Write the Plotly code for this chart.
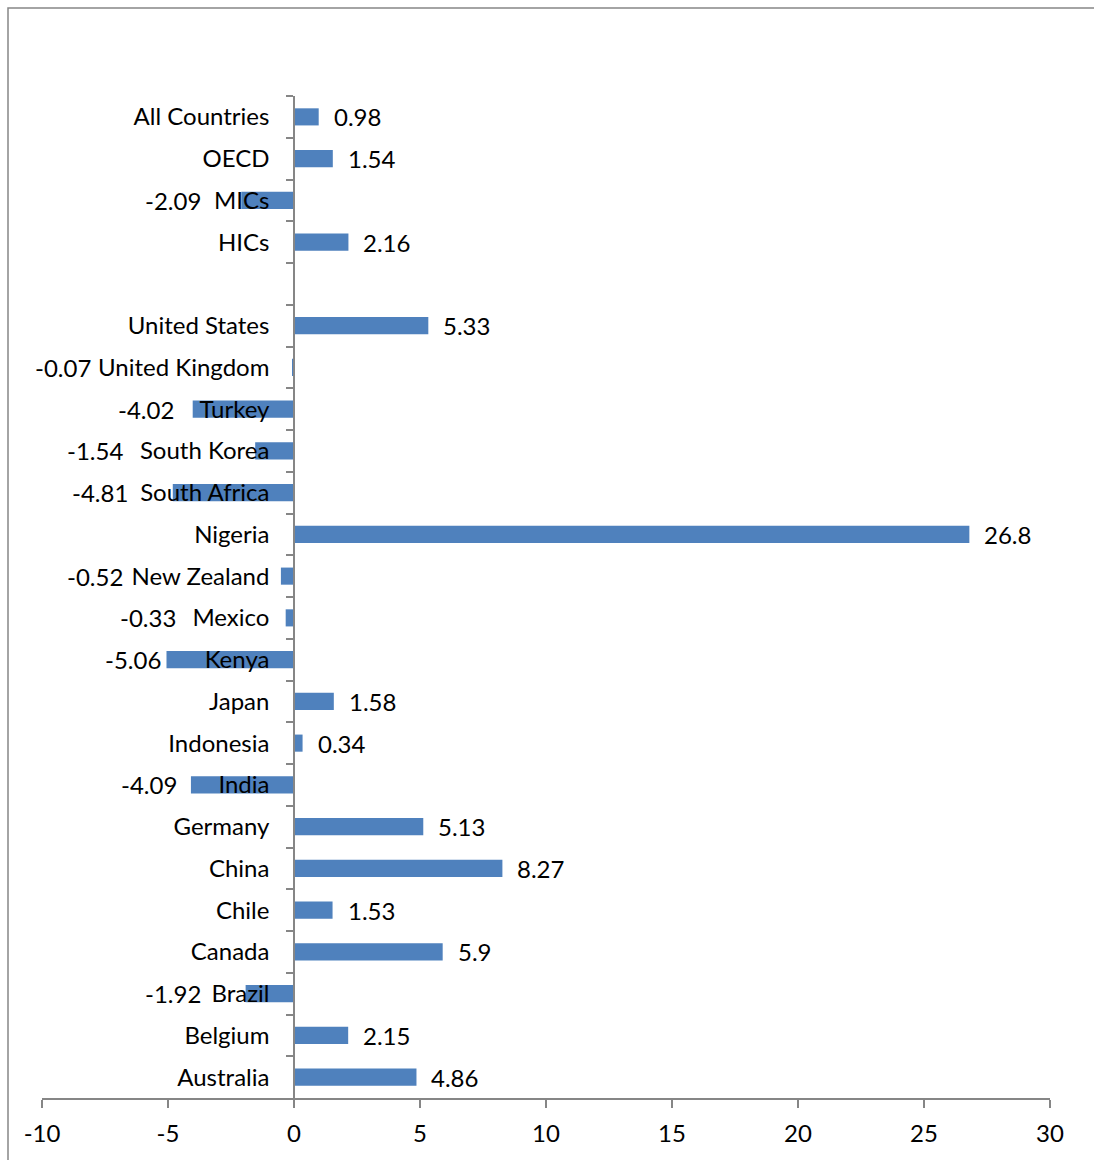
import plotly.graph_objects as go

# Categories listed top to bottom; " " is the empty spacer row
categories = [
    "All Countries", "OECD", "MICs", "HICs", " ",
    "United States", "United Kingdom", "Turkey", "South Korea", "South Africa",
    "Nigeria", "New Zealand", "Mexico", "Kenya", "Japan", "Indonesia",
    "India", "Germany", "China", "Chile", "Canada", "Brazil", "Belgium",
    "Australia",
]
values = [
    0.98, 1.54, -2.09, 2.16, None,
    5.33, -0.07, -4.02, -1.54, -4.81,
    26.8, -0.52, -0.33, -5.06, 1.58, 0.34,
    -4.09, 5.13, 8.27, 1.53, 5.9, -1.92, 2.15,
    4.86,
]
x_ticks = [-10, -5, 0, 5, 10, 15, 20, 25, 30]
x_tick_text = ["-10", "-5", "0", "5", "10", "15", "20", "25", "30"]

# Extra leftward nudge (px) for negative value labels so they clear the category names
neg_label_nudge = {
    "MICs": 25, "United Kingdom": 186, "Turkey": 4, "South Korea": 117,
    "South Africa": 30, "New Zealand": 143, "Mexico": 95, "Kenya": -10,
    "India": -1, "Brazil": 30,
}

FONT = "Lato, Carlito, 'Liberation Sans', sans-serif"
FSIZE = 24
AXIS_GREY = "#868686"
BAR_BLUE = "#4F81BD"

fig = go.Figure()
fig.add_trace(go.Bar(
    x=values, y=categories, orientation="h",
    marker=dict(color=BAR_BLUE, line=dict(width=0)),
    width=0.41, hoverinfo="x+y", showlegend=False,
))

annotations = []
for cat, v in zip(categories, values):
    if v is None:
        continue
    label = f"{v:g}"
    if v >= 0:
        annotations.append(dict(
            x=v, y=cat, xref="x", yref="y", text=label, showarrow=False,
            xanchor="left", xshift=13, yshift=0,
            font=dict(family=FONT, size=FSIZE, color="#000000"),
        ))
    else:
        annotations.append(dict(
            x=v, y=cat, xref="x", yref="y", text=label, showarrow=False,
            xanchor="right", xshift=-13 - neg_label_nudge.get(cat, 0), yshift=0,
            font=dict(family=FONT, size=FSIZE, color="#000000"),
        ))

fig.update_layout(
    width=1094, height=1160,
    margin=dict(l=42, r=44, t=96, b=62),
    paper_bgcolor="#FFFFFF", plot_bgcolor="#FFFFFF",
    font=dict(family=FONT, size=FSIZE, color="#000000"),
    bargap=0.59,
    annotations=annotations,
    xaxis=dict(
        range=[-10, 30], tickmode="array", tickvals=x_ticks, ticktext=x_tick_text,
        showgrid=False, zeroline=False, automargin=False,
        showline=True, linecolor=AXIS_GREY, linewidth=1.5,
        ticks="outside", ticklen=8, tickwidth=1.5, tickcolor=AXIS_GREY,
        ticklabelstandoff=5,
        tickfont=dict(family=FONT, size=FSIZE, color="#000000"),
    ),
    yaxis=dict(
        type="category", range=[len(categories) - 0.5, -0.5],
        anchor="free", position=0.25, automargin=False,
        showgrid=False, zeroline=False,
        showline=True, linecolor=AXIS_GREY, linewidth=1.5,
        ticks="outside", ticklen=7, tickwidth=1.5, tickcolor=AXIS_GREY,
        tickson="boundaries", ticklabelstandoff=19,
        tickfont=dict(family=FONT, size=FSIZE, color="#000000"),
    ),
    shapes=[dict(
        type="rect", xref="paper", yref="paper",
        x0=-34 / 1008, y0=-0.2, x1=1.2, y1=1 + 88 / 1002,
        line=dict(color=AXIS_GREY, width=1.5), fillcolor="rgba(0,0,0,0)",
        layer="below",
    )],
)

fig.write_html("out.html")
